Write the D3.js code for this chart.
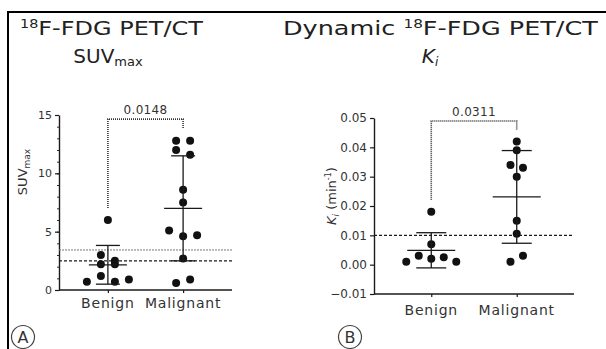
<!DOCTYPE html>
<html>
<head>
<meta charset="utf-8">
<script src="https://cdn.jsdelivr.net/npm/d3@7"></script>
<style>
  body { margin: 0; background: #fff; }
  svg { display: block; font-family: 'DejaVu Sans', sans-serif; }
</style>
</head>
<body>
<div id="chart"></div>
<script>
// data
const categories = ['Benign', 'Malignant'];

const suvBenign = [6.0, 3.0, 2.5, 2.2, 2.2, 0.7, 1.2, 0.7, 0.9];
const suvMalignant = [12.8, 12.8, 12.0, 11.6, 8.6, 7.5, 5.1, 4.6, 4.7, 2.7, 0.6, 0.9];
const suvMean = [2.16, 7.0];
const suvSd = [1.66, 4.5];
const suvCutoffs = [3.43, 2.5];
const suvTicks = [0, 5, 10, 15];
const suvMinorTicks = d3.range(0, 16, 1);
const suvPValue = '0.0148';
const suvBracket = 14.65;

const kiBenign = [0.018, 0.007, 0.001, 0.003, 0.002, 0.0025, 0.001];
const kiMalignant = [0.042, 0.039, 0.034, 0.033, 0.030, 0.015, 0.0105, 0.001, 0.003];
const kiMean = [0.0049, 0.0231];
const kiSd = [0.006, 0.0158];
const kiCutoffs = [0.01];
const kiTicks = [-0.01, 0, 0.01, 0.02, 0.03, 0.04, 0.05];
const kiPValue = '0.0311';
const kiBracket = 0.049;

const W = 606, H = 349;
const ink = '#1a1a1a';

const svg = d3.select('#chart').append('svg')
    .attr('width', W)
    .attr('height', H);

svg.append('rect').attr('width', W).attr('height', H).attr('fill', '#fff');

// frame (left + top only)
svg.append('path')
    .attr('d', `M8,${H} L8,12 L${W},12`)
    .attr('fill', 'none')
    .attr('stroke', '#000')
    .attr('stroke-width', 2);

function drawPanel(cfg) {
    const g = svg.append('g');

    const y = d3.scaleLinear().domain(cfg.domain).range([cfg.bottom, cfg.top]);
    const x = d3.scalePoint().domain(categories).range([cfg.left, cfg.right]).padding(cfg.pad);

    // minor ticks
    if (cfg.minor) {
        g.append('g')
            .attr('transform', `translate(${cfg.left},0)`)
            .call(d3.axisLeft(y).tickValues(cfg.minor).tickSize(2).tickFormat(''))
            .call(a => a.select('.domain').remove())
            .selectAll('line').attr('stroke', ink).attr('stroke-width', 0.9);
    }

    // y axis
    const yAxis = g.append('g')
        .attr('transform', `translate(${cfg.left},0)`)
        .call(d3.axisLeft(y).tickValues(cfg.ticks).tickSize(4).tickSizeOuter(0).tickPadding(3)
            .tickFormat(cfg.fmt));
    yAxis.select('.domain').attr('stroke', ink).attr('stroke-width', 1.4);
    yAxis.selectAll('.tick line').attr('stroke', ink).attr('stroke-width', 1.2);
    yAxis.selectAll('text')
        .attr('fill', '#333')
        .style('font-size', cfg.tickFont + 'px')
        .style('font-family', "'DejaVu Sans', sans-serif");

    // x axis
    const xAxis = g.append('g')
        .attr('transform', `translate(0,${cfg.bottom})`)
        .call(d3.axisBottom(x).tickSize(3).tickSizeOuter(0).tickFormat(''));
    xAxis.select('.domain').attr('d', `M${cfg.left},0H${cfg.right}`)
        .attr('stroke', ink).attr('stroke-width', 1.4);
    xAxis.selectAll('.tick line').attr('stroke', ink).attr('stroke-width', 1.2);

    g.selectAll('.cat')
        .data(categories)
        .enter()
        .append('text')
        .attr('class', 'cat')
        .attr('x', d => x(d))
        .attr('y', cfg.catY)
        .attr('text-anchor', 'middle')
        .attr('fill', '#333')
        .style('font-size', '14px')
        .style('letter-spacing', '0.8px')
        .text(d => d);

    // cut-off lines
    g.selectAll('.cut')
        .data(cfg.cutoffs)
        .enter()
        .append('line')
        .attr('x1', cfg.left)
        .attr('x2', cfg.right)
        .attr('y1', d => y(d))
        .attr('y2', d => y(d))
        .attr('stroke', (d, i) => cfg.cutoffs.length > 1 && i === 0 ? '#777' : ink)
        .attr('stroke-width', (d, i) => cfg.cutoffs.length > 1 && i === 0 ? 1 : 1.3)
        .attr('stroke-dasharray', (d, i) => cfg.cutoffs.length > 1 && i === 0 ? '2,1' : '3,2');

    // scatter dots, simple row swarm
    const groups = [cfg.benign, cfg.malignant];
    groups.forEach((vals, gi) => {
        const cx = x(categories[gi]);
        const pts = vals.map((v, i) => ({ v, i, py: y(v) }));
        const sorted = pts.slice().sort((a, b) => a.py - b.py);
        const rows = [];
        sorted.forEach(p => {
            const row = rows[rows.length - 1];
            if (row && p.py - row[0].py <= 8) row.push(p);
            else rows.push([p]);
        });
        rows.forEach(row => {
            row.sort((a, b) => a.i - b.i);
            row.forEach((p, k) => { p.px = cx + (k - (row.length - 1) / 2) * cfg.spread; });
        });

        g.append('g').selectAll('circle')
            .data(pts)
            .enter()
            .append('circle')
            .attr('cx', d => d.px)
            .attr('cy', d => d.py)
            .attr('r', 4)
            .attr('fill', '#111');

        // mean +/- SD
        const m = cfg.mean[gi], s = cfg.sd[gi];
        const bar = g.append('g').attr('stroke', ink).attr('stroke-width', 1.3);
        bar.append('line').attr('x1', cx).attr('x2', cx).attr('y1', y(m + s)).attr('y2', y(m - s));
        bar.append('line').attr('x1', cx - cfg.meanW).attr('x2', cx + cfg.meanW).attr('y1', y(m)).attr('y2', y(m));
        [m + s, m - s].forEach(v => {
            bar.append('line').attr('x1', cx - cfg.capW).attr('x2', cx + cfg.capW).attr('y1', y(v)).attr('y2', y(v));
        });
    });

    // significance bracket
    const xb = x(categories[0]), xm = x(categories[1]);
    const yTop = y(cfg.bracket);
    const yL = y(d3.max(cfg.benign)) - 12;
    const yR = y(d3.max(cfg.malignant)) - 12;
    g.append('path')
        .attr('d', `M${xb},${yL} V${yTop} H${xm} V${yR}`)
        .attr('fill', 'none')
        .attr('stroke', '#333')
        .attr('stroke-width', 1.6)
        .attr('stroke-dasharray', '1,1');
    g.append('text')
        .attr('x', (xb + xm) / 2)
        .attr('y', yTop - 5)
        .attr('text-anchor', 'middle')
        .attr('fill', '#333')
        .style('font-size', '12px')
        .style('letter-spacing', '0.3px')
        .text(cfg.pValue);

    // circled panel letter
    g.append('circle')
        .attr('cx', cfg.tag[0]).attr('cy', cfg.tag[1]).attr('r', 11.5)
        .attr('fill', 'none').attr('stroke', '#444').attr('stroke-width', 1.2);
    g.append('text')
        .attr('x', cfg.tag[0]).attr('y', cfg.tag[1] + 6)
        .attr('text-anchor', 'middle')
        .attr('fill', '#333')
        .style('font-size', '16px')
        .text(cfg.letter);

    return g;
}

drawPanel({
    domain: [0, 15], top: 115, bottom: 290, left: 59, right: 232, pad: 0.65,
    ticks: suvTicks, minor: suvMinorTicks, fmt: d3.format('d'), tickFont: 11,
    catY: 308, cutoffs: suvCutoffs, benign: suvBenign, malignant: suvMalignant,
    mean: suvMean, sd: suvSd, spread: 14, meanW: 19, capW: 12,
    bracket: suvBracket, pValue: suvPValue, tag: [23, 337], letter: 'A'
});

drawPanel({
    domain: [-0.01, 0.05], top: 118, bottom: 294, left: 374, right: 574, pad: 0.67,
    ticks: kiTicks, minor: null, fmt: d3.format('.2f'), tickFont: 12,
    catY: 315, cutoffs: kiCutoffs, benign: kiBenign, malignant: kiMalignant,
    mean: kiMean, sd: kiSd, spread: 12.5, meanW: 24, capW: 15,
    bracket: kiBracket, pValue: kiPValue, tag: [350, 337], letter: 'B'
});

// titles: stretched horizontally to the wide face of the original
function stretch(text, x, y, width) {
    const w = text.node().getComputedTextLength();
    text.attr('transform', `translate(${x},${y}) scale(${width / w},1)`);
}

const title = svg.append('g').attr('fill', '#222');

const tA = title.append('text').style('font-size', '20px');
tA.append('tspan').attr('font-size', '12px').attr('dy', -7).text('18');
tA.append('tspan').attr('dy', 7).text('F-FDG PET/CT');
stretch(tA, 20, 35, 183);

const tA2 = title.append('text').attr('x', 108).attr('y', 63)
    .attr('text-anchor', 'middle').style('font-size', '20px');
tA2.append('tspan').text('SUV');
tA2.append('tspan').attr('font-size', '13px').attr('dy', 3).text('max');

const tB = title.append('text').style('font-size', '20px');
tB.append('tspan').text('Dynamic ');
tB.append('tspan').attr('font-size', '12px').attr('dy', -7).text('18');
tB.append('tspan').attr('dy', 7).text('F-FDG PET/CT');
stretch(tB, 283, 35, 315);

const tB2 = title.append('text').attr('x', 430).attr('y', 63)
    .attr('text-anchor', 'middle').style('font-size', '20px');
tB2.append('tspan').attr('font-style', 'italic').text('K');
tB2.append('tspan').attr('font-size', '12px').attr('font-style', 'italic').attr('dy', 3).text('i');

// y-axis titles
const yA = svg.append('text')
    .attr('transform', 'translate(27,172) rotate(-90)')
    .attr('text-anchor', 'middle')
    .attr('fill', '#333')
    .style('font-size', '13px');
yA.append('tspan').text('SUV');
yA.append('tspan').attr('font-size', '9px').attr('dy', 3).text('max');

const yB = svg.append('text')
    .attr('transform', 'translate(336,196) rotate(-90)')
    .attr('text-anchor', 'middle')
    .attr('fill', '#333')
    .style('font-size', '13px');
yB.append('tspan').attr('font-style', 'italic').text('K');
yB.append('tspan').attr('font-size', '9px').attr('font-style', 'italic').attr('dy', 3).text('i');
yB.append('tspan').attr('dy', -3).text(' (min');
yB.append('tspan').attr('font-size', '8px').attr('dy', -5).text('-1');
yB.append('tspan').attr('dy', 5).text(')');
</script>
</body>
</html>
